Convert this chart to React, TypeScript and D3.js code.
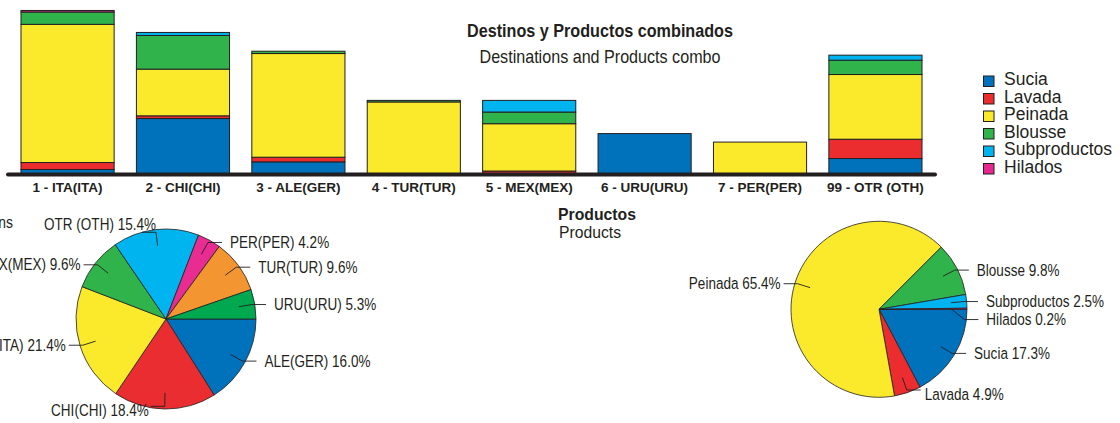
import React from "react";
import * as d3 from "d3";

// bar chart: share of total exports (%) by destination, stacked by product
const categories = [
  "1 - ITA(ITA)",
  "2 - CHI(CHI)",
  "3 - ALE(GER)",
  "4 - TUR(TUR)",
  "5 - MEX(MEX)",
  "6 - URU(URU)",
  "7 - PER(PER)",
  "99 - OTR (OTH)",
];
const productKeys = ["Sucia", "Lavada", "Peinada", "Blousse", "Subproductos", "Hilados"];
const sucia = [0.65, 7.25, 1.64, 0, 0, 5.3, 0, 2.07];
const lavada = [0.9, 0.35, 0.6, 0, 0.45, 0, 0, 2.5];
const peinada = [17.9, 6.05, 13.43, 9.4, 6.13, 0, 4.2, 8.38];
const blousse = [1.6, 4.36, 0.3, 0.2, 1.51, 0, 0, 1.86];
const subproductos = [0, 0.39, 0, 0, 1.51, 0, 0, 0.65];
const hilados = [0.2, 0, 0, 0, 0, 0, 0, 0];
const productColors = ["#0072bc", "#ec2d30", "#fbe92b", "#2fb34a", "#00b5ef", "#e6288f"];

// destinations pie
const destLabels = ["ALE(GER)", "CHI(CHI)", "ITA(ITA)", "MEX(MEX)", "OTR (OTH)", "PER(PER)", "TUR(TUR)", "URU(URU)"];
const destShare = [16.0, 18.4, 21.4, 9.6, 15.4, 4.2, 9.6, 5.3];
const destColors = ["#0072bc", "#e92d30", "#fbe92b", "#2fb34a", "#00b5ef", "#e82c91", "#f39531", "#00a94f"];

// products pie
const prodShare = [17.3, 4.9, 65.4, 9.8, 2.5, 0.2];

const INK = "#231f20";
const SANS = "'Liberation Sans', Arial, sans-serif";

const rows = categories.map((c, i) => ({
  name: c,
  Sucia: sucia[i],
  Lavada: lavada[i],
  Peinada: peinada[i],
  Blousse: blousse[i],
  Subproductos: subproductos[i],
  Hilados: hilados[i],
}));

// condensed look: squeeze a normal sans horizontally
function Narrow({ x, y, anchor = "start", size = 16, bold = false, children }: any) {
  return (
    <g transform={`translate(${x},${y}) scale(0.82,1)`}>
      <text textAnchor={anchor} fontFamily={SANS} fontSize={size} fontWeight={bold ? "bold" : "normal"} fill={INK}>
        {children}
      </text>
    </g>
  );
}

function Bars() {
  const baseY = 174.5;
  const x = d3.scaleBand().domain(categories).range([21, 922]).paddingInner(0.193).paddingOuter(0);
  const y = d3.scaleLinear().domain([0, 22]).range([baseY, baseY - 22 * 7.72]);
  const layers = d3.stack<any>().keys(productKeys)(rows);
  return (
    <g>
      {layers.map((layer, li) => (
        <g key={layer.key} fill={productColors[li]}>
          {layer
            .filter((d) => d[1] - d[0] > 0)
            .map((d) => (
              <rect
                key={d.data.name}
                x={x(d.data.name)}
                width={x.bandwidth()}
                y={y(d[1])}
                height={y(d[0]) - y(d[1])}
                stroke={INK}
                strokeWidth={1}
              />
            ))}
        </g>
      ))}
      <line x1={8} x2={935} y1={baseY} y2={baseY} stroke={INK} strokeWidth={4} strokeLinecap="round" />
      {categories.map((c) => (
        <text
          key={c}
          x={(x(c) as number) + x.bandwidth() / 2}
          y={192}
          textAnchor="middle"
          fontFamily={SANS}
          fontWeight="bold"
          fontSize={13.5}
          fill={INK}
        >
          {c}
        </text>
      ))}
    </g>
  );
}

function Legend() {
  return (
    <g>
      {productKeys.map((k, i) => (
        <g key={k}>
          <rect x={983.5} y={76 + i * 17.5} width={10.5} height={10.5} fill={productColors[i]} stroke={INK} strokeWidth={1} />
          <text x={1004} y={85 + i * 17.5} fontFamily={SANS} fontSize={17.5} fill={INK}>
            {k}
          </text>
        </g>
      ))}
    </g>
  );
}

function LabeledPie({ labels, values, colors, cx, cy, r }: any) {
  const pie = d3
    .pie<number>()
    .sort(null)
    .startAngle(Math.PI / 2)
    .endAngle(Math.PI / 2 + 2 * Math.PI);
  const arcs = pie(values);
  const arc = d3.arc<any>().innerRadius(0).outerRadius(r);
  const pt = (a: number, rr: number) => [Math.sin(a) * rr, -Math.cos(a) * rr];

  const items = arcs.map((a, i) => {
    const mid = (a.startAngle + a.endAngle) / 2;
    const inner = pt(mid, r * 0.82);
    const elbow = pt(mid, r * 0.97);
    const side = elbow[0] >= 0 ? 1 : -1;
    const top = elbow[1] / r < -0.9;
    const bottom = elbow[1] / r > 0.9;
    return { i, inner, elbow, side, top, bottom, ly: elbow[1] };
  });
  // push overlapping labels apart on each side
  [1, -1].forEach((s) => {
    const list = items.filter((d) => d.side === s && !d.top).sort((a, b) => a.ly - b.ly);
    for (let k = 1; k < list.length; k++) {
      if (list[k].ly - list[k - 1].ly < 18) list[k].ly = list[k - 1].ly + 18;
    }
  });

  return (
    <g transform={`translate(${cx},${cy})`}>
      {arcs.map((a, i) => (
        <path key={i} d={arc(a) as string} fill={colors[i]} stroke={INK} strokeWidth={0.8} />
      ))}
      {items.map((d) => {
        const ex = d.elbow[0];
        const ey = d.ly;
        const hx = ex + d.side * 14;
        const txt = `${labels[d.i]} ${values[d.i].toFixed(1)}%`;
        let tx = d.side > 0 ? hx + 8 : hx - 3;
        let ty = ey + 5.5;
        let anchor = d.side > 0 ? "start" : "end";
        if (d.top) {
          tx = ex;
          ty = ey - 2;
          anchor = "end";
        } else if (d.bottom) {
          tx = d.side > 0 ? hx + 4 : hx - 2;
          ty = ey + 10;
        }
        return (
          <g key={d.i}>
            <polyline
              points={`${d.inner[0]},${d.inner[1]} ${ex},${ey} ${hx},${ey}`}
              fill="none"
              stroke={INK}
              strokeWidth={0.9}
            />
            <Narrow x={tx} y={ty} anchor={anchor} size={16.5}>
              {txt}
            </Narrow>
          </g>
        );
      })}
    </g>
  );
}

export default function App() {
  return (
    <div style={{ position: "absolute", left: 0, top: 0 }}>
      <svg width={1120} height={423} style={{ display: "block", background: "#fff" }}>
        <Bars />
        <Legend />
        <text x={600} y={37} textAnchor="middle" fontFamily={SANS} fontWeight="bold" fontSize={19} textLength={266} lengthAdjust="spacingAndGlyphs" fill={INK}>
          Destinos y Productos combinados
        </text>
        <text x={600} y={62.5} textAnchor="middle" fontFamily={SANS} fontSize={19} textLength={241} lengthAdjust="spacingAndGlyphs" fill={INK}>
          Destinations and Products combo
        </text>
        <text x={558} y={220} fontFamily={SANS} fontWeight="bold" fontSize={17} textLength={78} lengthAdjust="spacingAndGlyphs" fill={INK}>
          Productos
        </text>
        <text x={559} y={238} fontFamily={SANS} fontSize={17} textLength={62} lengthAdjust="spacingAndGlyphs" fill={INK}>
          Products
        </text>
        <Narrow x={13} y={228} anchor="end" size={17}>
          Destinations
        </Narrow>
        <LabeledPie labels={destLabels} values={destShare} colors={destColors} cx={166} cy={319} r={90} />
        <LabeledPie labels={productKeys} values={prodShare} colors={productColors} cx={879} cy={309.3} r={88} />
      </svg>
    </div>
  );
}
